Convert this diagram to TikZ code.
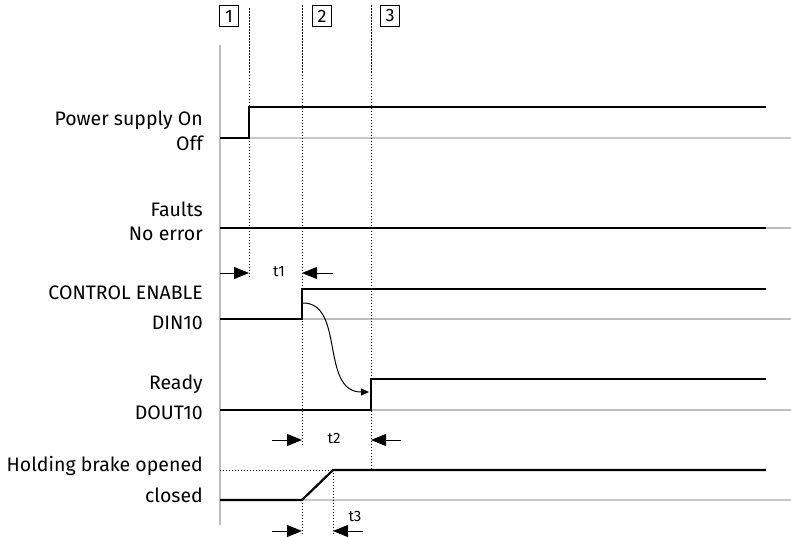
\documentclass[tikz,border=0pt]{standalone}
\usepackage{fontspec}
\setmainfont{Fira Sans}
\usetikzlibrary{arrows.meta}
\definecolor{axisgray}{HTML}{BDBDBD}
\definecolor{lightgray}{HTML}{C8C8C8}
\tikzset{
  sig/.style     ={line width=2.2pt,draw=black,line join=miter},
  baseline/.style={line width=1.1pt,draw=axisgray},
  evline/.style  ={line width=0.9pt,dash pattern=on 1pt off 2pt},
  evtop/.style   ={line width=0.9pt,dash pattern=on 2pt off 1pt},
  lbl/.style     ={anchor=base east,inner sep=0pt,font=\fontsize{19.5}{22}\selectfont},
  tlbl/.style    ={inner sep=0pt,font=\fontsize{15}{18}\selectfont},
  stepno/.style  ={draw,line width=0.8pt,minimum width=19pt,minimum height=21pt,
                   inner sep=0pt,font=\fontsize{18}{20}\selectfont},
  dim/.style     ={-{Triangle[length=15pt,width=12pt]},line width=1pt},
  cause/.style   ={-{Triangle[length=8pt,width=7pt]},line width=1pt}
}
\begin{document}
\begin{tikzpicture}[x=1pt,y=-1pt]
  \useasboundingbox (0,0) rectangle (791,537);
  % time instants and levels
  \coordinate (e1) at (249,0);  \coordinate (e2) at (302,0);
  \coordinate (e3) at (371,0);  \coordinate (e4) at (333,0);
  % axis and low levels
  \draw[baseline,line width=2pt] (220,45) -- (220,525);
  \draw[baseline,line width=2pt,draw=lightgray] (220,138) -- (791,138);
  \draw[baseline] (220,228) -- (791,228);
  \draw[baseline] (220,319) -- (791,319);
  \draw[baseline] (220,410) -- (791,410);
  \draw[baseline,draw=lightgray,line width=1.6pt] (220,500) -- (791,500);
  % step markers
  \node[stepno] (s1) at (229,16) {1};
  \node[stepno] (s2) at (322,16) {2};
  \node[stepno] (s3) at (390,16) {3};
  \draw[evtop] (249,8) -- (249,72);  \draw[evline] (249,72) -- (249,278);
  \draw[evtop] (302,5) -- (302,72);  \draw[evline] (302,72) -- (302,445);
  \draw[evline] (302,500) -- (302,535);
  \draw[evtop] (371,5) -- (371,72);  \draw[evline] (371,72) -- (371,470);
  \draw[evline] (333,470) -- (333,535);
  \draw[evline] (220,470) -- (333,470);
  % signals
  \draw[sig] (220,138) -- (249,138) -- (249,107) -- (766,107);
  \draw[sig] (220,228) -- (766,228);
  \draw[sig] (220,319) -- (302,319) -- (302,289) -- (766,289);
  \draw[sig] (220,410) -- (371,410) -- (371,379) -- (766,379);
  \draw[sig] (220,500) -- (302,500) -- (333,470) -- (766,470);
  \draw[cause] (303,303) .. controls (345,303) and (320,392) .. (369,392);
  % labels
  \node[lbl] (pon)  at (203,126) {Power supply On};
  \node[lbl] (poff) at (203,151) {Off};
  \node[lbl] (flt)  at (203,216) {Faults};
  \node[lbl] (nerr) at (203,240) {No error};
  \node[lbl] (ce)   at (203,299) {CONTROL ENABLE};
  \node[lbl] (din)  at (203,329) {DIN10};
  \node[lbl] (rdy)  at (203,389) {Ready};
  \node[lbl] (dout) at (203,419) {DOUT10};
  \node[lbl] (bop)  at (203,471) {Holding brake opened};
  \node[lbl] (bcl)  at (203,502) {closed};
  % times
  \coordinate (a1) at (220,273);  \coordinate (b1) at (333,273);
  \coordinate (a2) at (272,440);  \coordinate (b2) at (401,440);
  \coordinate (a3) at (272,531);  \coordinate (b3) at (363,531);
  \draw[dim] (a1) -- (a1 -| e1);  \draw[dim] (b1) -- (b1 -| e2);
  \draw[dim] (a2) -- (a2 -| e2);  \draw[dim] (b2) -- (b2 -| e3);
  \draw[dim] (a3) -- (a3 -| e2);  \draw[dim] (b3) -- (b3 -| e4);
  \node[tlbl] (t1) at (279,272) {t1};
  \node[tlbl] (t2) at (334,438) {t2};
  \node[tlbl] (t3) at (355,516) {t3};
\end{tikzpicture}
\end{document}
